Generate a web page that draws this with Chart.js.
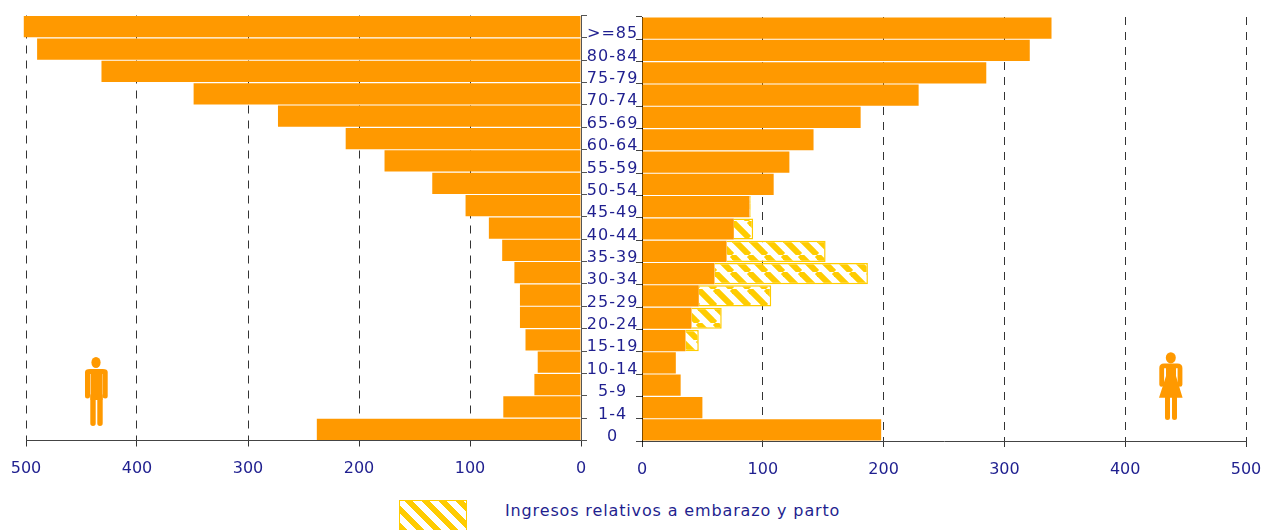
<!DOCTYPE html>
<html>
<head>
<meta charset="utf-8">
<script src="https://cdn.jsdelivr.net/npm/chart.js@4"></script>
<style>
  html, body { margin: 0; padding: 0; background: #fff; overflow: hidden; }
  body { width: 1263px; height: 530px; position: relative; font-family: "DejaVu Sans", sans-serif; color: #1f1f8f; }
  .box { position: absolute; top: 0; height: 490px; }
  #leftBox { left: 0; width: 640px; }
  #rightBox { left: 630px; width: 633px; }
  .icon { position: absolute; }
  .icon .solid { fill: #ff9900; }
  .icon .limb { fill: none; stroke: #ff9900; stroke-linecap: round; stroke-linejoin: round; }
  #swatch { position: absolute; left: 399px; top: 500px; width: 68px; height: 31px; box-sizing: border-box; border: 1.5px solid #ffcc00;
    background: repeating-linear-gradient(45deg, #ffcc00 0 5.5px, #fff 5.5px 12px); }
  #legendText { position: absolute; left: 505px; top: 501px; font-size: 16px; letter-spacing: 0.86px; white-space: nowrap; }
</style>
</head>
<body>
<div class="box" id="leftBox"><canvas id="men"></canvas></div>
<div class="box" id="rightBox"><canvas id="women"></canvas></div>

<svg class="icon" style="left:84px;top:356px" width="25" height="71" viewBox="0 0 25 71">
  <ellipse class="solid" cx="12" cy="6.5" rx="4.6" ry="5.6"/>
  <path class="solid" d="M6.5 13H18.5V44H6.5Z"/>
  <path class="limb" stroke-width="5" d="M3.5 40V16Q3.5 15.5 6 15.5H18.7Q21.2 15.5 21.2 16V40"/>
  <path class="limb" stroke-width="5.4" d="M9 40V67.3M16 40V67.3"/>
</svg>
<svg class="icon" style="left:1159px;top:352px" width="25" height="69" viewBox="0 0 25 69">
  <ellipse class="solid" cx="11.8" cy="5.8" rx="5" ry="5.6"/>
  <path class="solid" d="M7 12H17V24L23.6 45.7H0L7 24Z"/>
  <path class="limb" stroke-width="4.8" d="M2.7 32.4V16Q2.7 13.8 5 13.8H18.4Q21 13.8 21 16V32.4"/>
  <path class="limb" stroke-width="5" d="M8.5 45V65.5M15.5 45V65.5"/>
</svg>

<div id="swatch"></div>
<div id="legendText">Ingresos relativos a embarazo y parto</div>

<script>
const ageGroups = [">=85", "80-84", "75-79", "70-74", "65-69", "60-64", "55-59", "50-54", "45-49", "40-44", "35-39", "30-34", "25-29", "20-24", "15-19", "10-14", "5-9", "1-4", "0"]
const men = [502, 490, 432, 349, 273, 212, 177, 134, 104, 83, 71, 60, 55, 55, 50, 39, 42, 70, 238]
const women = [339, 321, 285, 229, 181, 142, 122, 109, 89, 76, 70, 60, 47, 41, 36, 28, 32, 50, 198]
const pregnancy = [0, 0, 0, 0, 0, 0, 0, 0, 1, 16, 82, 127, 60, 25, 11, 0, 0, 0, 0]
const xTicks = [0, 100, 200, 300, 400, 500]

const ORANGE = "#ff9900"
const YELLOW = "#ffcc00"
const NAVY = "#1f1f8f"
const FONT = { family: "'DejaVu Sans', sans-serif", size: 16 }

function hatch() {
  const c = document.createElement("canvas")
  c.width = c.height = 17
  const g = c.getContext("2d")
  g.fillStyle = "#fff"
  g.fillRect(0, 0, 17, 17)
  g.strokeStyle = YELLOW
  g.lineWidth = 6
  for (const d of [-17, 0, 17]) {
    g.beginPath()
    g.moveTo(d, 0)
    g.lineTo(d + 17, 17)
    g.stroke()
  }
  return g.createPattern(c, "repeat")
}

function xAxis(reverse) {
  return {
    type: "linear",
    stacked: true,
    reverse,
    min: 0,
    max: 500,
    afterBuildTicks: s => { s.ticks = xTicks.map(value => ({ value })) },
    // keep the plot edges where they are, whatever the end labels need
    afterFit: s => { s.height = 48; s.paddingLeft = 0; s.paddingRight = 0 },
    border: { display: true, color: "#444", dash: [8, 7] },
    grid: { color: "#333", lineWidth: 1, tickLength: 6, tickColor: "#333", tickBorderDash: [] },
    ticks: { color: NAVY, font: FONT, padding: 13, maxRotation: 0 }
  }
}

const baseOptions = {
  indexAxis: "y",
  responsive: false,
  maintainAspectRatio: false,
  animation: false,
  plugins: { legend: { display: false }, tooltip: { enabled: false } }
}

const sizeBox = (id, w, h) => {
  const el = document.getElementById(id)
  el.width = w
  el.height = h
  return el
}

new Chart(sizeBox("men", 640, 490), {
  type: "bar",
  data: {
    labels: ageGroups,
    datasets: [{ data: men, backgroundColor: ORANGE, barPercentage: 1, categoryPercentage: 0.95, clip: false }]
  },
  options: {
    ...baseOptions,
    layout: { padding: { left: 26, top: 15.5, right: 0, bottom: 1.5 } },
    scales: {
      x: xAxis(true),
      y: {
        position: "right",
        stacked: true,
        afterFit: s => {
          s.width = 59
          // age labels are a bit spaced out in the original
          const drawLabels = s.drawLabels
          s.drawLabels = function (area) {
            this.ctx.letterSpacing = "1px"
            drawLabels.call(this, area)
            this.ctx.letterSpacing = "0px"
          }
        },
        border: { display: true, color: "#555" },
        grid: { offset: true, drawOnChartArea: false, tickLength: 6, tickColor: "#555" },
        ticks: { color: NAVY, font: FONT, padding: 2, labelOffset: 7.5, crossAlign: "center", autoSkip: false }
      }
    }
  }
})

new Chart(sizeBox("women", 633, 490), {
  type: "bar",
  data: {
    labels: ageGroups,
    datasets: [
      { data: women, backgroundColor: ORANGE, barPercentage: 1, categoryPercentage: 0.95 },
      { data: pregnancy, backgroundColor: hatch(), borderColor: YELLOW, borderWidth: 1.5, barPercentage: 1, categoryPercentage: 0.95 }
    ]
  },
  options: {
    ...baseOptions,
    layout: { padding: { left: 0, top: 17, right: 17, bottom: 1 } },
    scales: {
      x: xAxis(false),
      y: {
        position: "left",
        stacked: true,
        afterFit: s => { s.width = 12 },
        border: { display: true, color: "#000" },
        grid: { offset: true, drawOnChartArea: false, tickLength: 6, tickColor: "#444" },
        ticks: { display: false, autoSkip: false }
      }
    }
  }
})
</script>
</body>
</html>
